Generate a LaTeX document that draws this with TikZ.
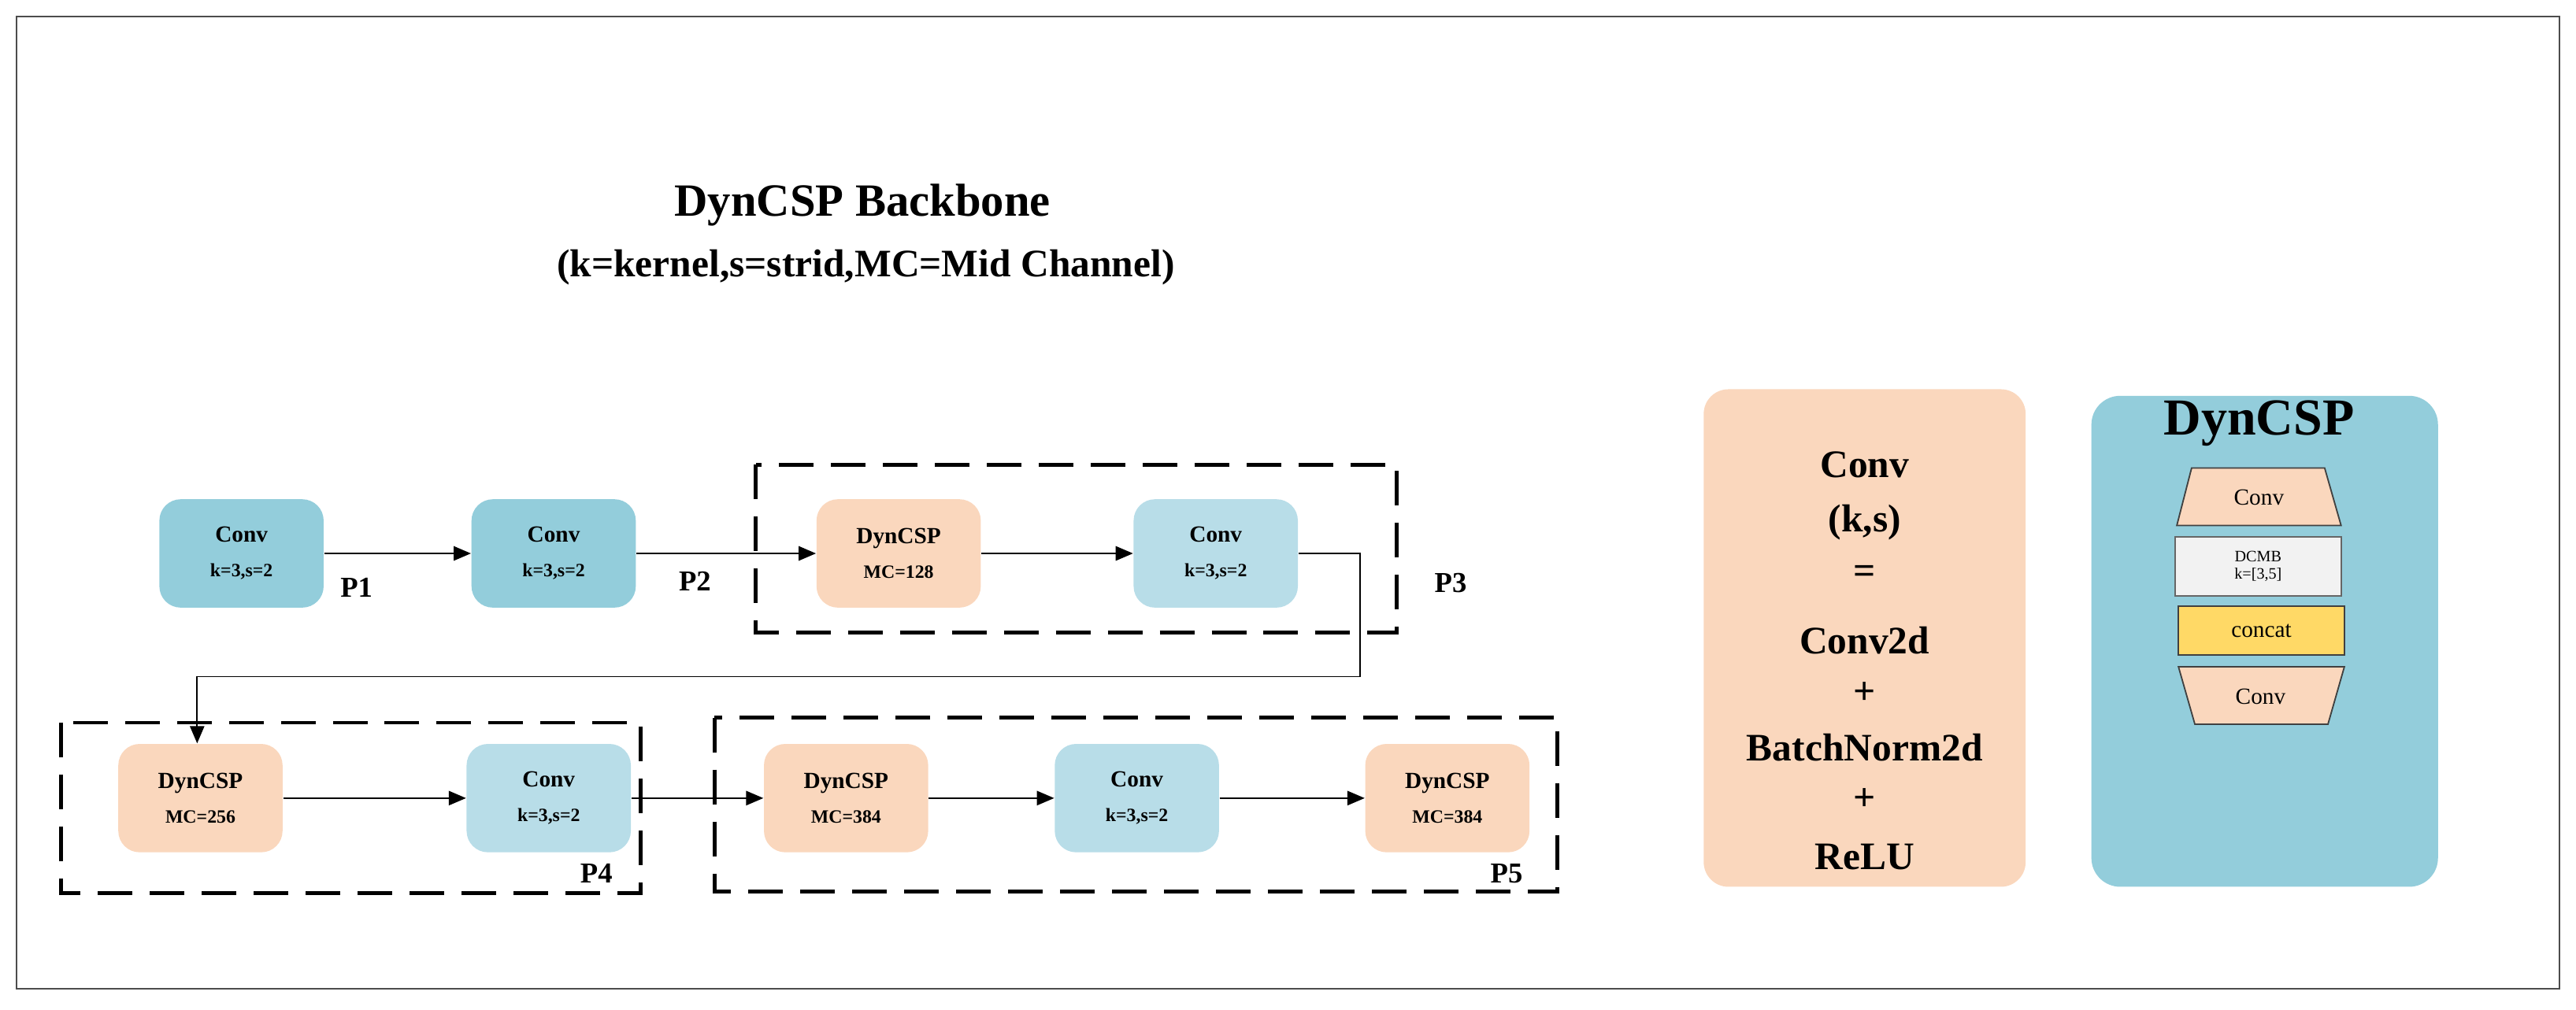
\documentclass[tikz,border=0pt]{standalone}
\usepackage{fontspec}
\setmainfont{Liberation Serif}
\usetikzlibrary{arrows.meta}
\definecolor{teal}{HTML}{93CDDB}
\definecolor{lblue}{HTML}{B8DDE8}
\definecolor{peach}{HTML}{FAD7BD}
\definecolor{lgray}{HTML}{F2F2F2}
\definecolor{gold}{HTML}{FFD966}
\begin{document}
\begin{tikzpicture}[x=0.02cm,y=-0.02cm,
  blk/.style={rounded corners=0.26cm,minimum width=2cm,minimum height=1.32cm,align=center,font=\fontsize{8}{11}\selectfont\bfseries,inner sep=0pt},
  cA/.style={blk,fill=teal},
  cB/.style={blk,fill=lblue},
  dP/.style={blk,fill=peach},
  arr/.style={-{Triangle[length=6pt,width=5pt]},line width=0.5pt},
  dbox/.style={dash pattern=on 12pt off 6pt,line width=1.3pt},
  plab/.style={font=\fontsize{10}{12}\selectfont\bfseries,inner sep=0pt},
  sml/.style={font=\fontsize{6}{6}\selectfont}]
\useasboundingbox (0,0) rectangle (1568,615);
\draw[line width=0.6pt,black!70] (10,10) rectangle (1558,602);
\node[font=\fontsize{16}{18}\selectfont\bfseries] (t1) at (525,125) {DynCSP Backbone};
\node[font=\fontsize{13.5}{16}\selectfont\bfseries] (t2) at (527,163) {(k=kernel,s=strid,MC=Mid Channel)};
% dashed boxes
\draw[dbox] (460,283) rectangle (850,385);
\draw[dbox] (37,440) rectangle (390,544);
\draw[dbox] (435,437) rectangle (948,543);
% row 1
\node[cA] (a1) at (147,337) {Conv\\[1pt]{\fontsize{6.5}{8}\selectfont k=3,s=2}};
\node[cA] (a2) at (337,337) {Conv\\[1pt]{\fontsize{6.5}{8}\selectfont k=3,s=2}};
\node[dP] (a3) at (547,337) {DynCSP\\[1pt]{\fontsize{6.5}{8}\selectfont MC=128}};
\node[cB] (a4) at (740,337) {Conv\\[1pt]{\fontsize{6.5}{8}\selectfont k=3,s=2}};
% row 2
\node[dP] (b1) at (122,486) {DynCSP\\[1pt]{\fontsize{6.5}{8}\selectfont MC=256}};
\node[cB] (b2) at (334,486) {Conv\\[1pt]{\fontsize{6.5}{8}\selectfont k=3,s=2}};
\node[dP] (b3) at (515,486) {DynCSP\\[1pt]{\fontsize{6.5}{8}\selectfont MC=384}};
\node[cB] (b4) at (692,486) {Conv\\[1pt]{\fontsize{6.5}{8}\selectfont k=3,s=2}};
\node[dP] (b5) at (881,486) {DynCSP\\[1pt]{\fontsize{6.5}{8}\selectfont MC=384}};
\node[plab] (p1) at (217,358) {P1};
\node[plab] (p2) at (423,354) {P2};
\node[plab] (p3) at (883,355) {P3};
\node[plab] (p4) at (363,532) {P4};
\node[plab] (p5) at (917,532) {P5};
\draw[arr] (a1) -- (a2);
\draw[arr] (a2) -- (a3);
\draw[arr] (a3) -- (a4);
\coordinate (c1) at (828,337);
\coordinate (c2) at (828,412);
\coordinate (c3) at (120,412);
\draw[arr] (a4.east) -- (c1) -- (c2) -- (c3) -- (b1.north -| c3);
\draw[arr] (b1) -- (b2);
\draw[arr] (b2) -- (b3);
\draw[arr] (b3) -- (b4);
\draw[arr] (b4) -- (b5);
% legend conv
\node[fill=peach,rounded corners=0.3cm,minimum width=3.92cm,minimum height=6.06cm] (lc) at (1135,388.5) {};
\foreach \t/\yy [count=\i] in {Conv/283,{(k,s)}/318,=/350,Conv2d/390,+/422,BatchNorm2d/455,+/487,ReLU/522}
  \node[font=\fontsize{13.5}{16}\selectfont\bfseries] (lt\i) at (1135,\yy) {\t};
% legend dyncsp
\node[fill=teal,rounded corners=0.35cm,minimum width=4.22cm,minimum height=5.98cm] (ld) at (1378.5,390.5) {};
\node[font=\fontsize{18}{20}\selectfont\bfseries] (ldt) at (1375,258) {DynCSP};
\draw[fill=peach,draw=black!75,line width=0.5pt] (1334,285) -- (1415,285) -- (1425,320) -- (1325,320) -- cycle;
\node[font=\fontsize{8}{9}\selectfont] (tc1) at (1375,303) {Conv};
\node[draw=black!60,fill=lgray,line width=0.5pt,minimum width=2.02cm,minimum height=0.72cm,inner sep=0pt,align=center,font=\fontsize{5.5}{6}\selectfont] (dc) at (1374.5,345) {DCMB\\k=[3,5]};
\node[draw=black!75,fill=gold,line width=0.5pt,minimum width=2.02cm,minimum height=0.6cm,inner sep=0pt,font=\fontsize{8}{9}\selectfont] (cc) at (1376.5,384) {concat};
\draw[fill=peach,draw=black!75,line width=0.5pt] (1326,406) -- (1427,406) -- (1417,441) -- (1336,441) -- cycle;
\node[font=\fontsize{8}{9}\selectfont] (tc2) at (1376,424) {Conv};
\end{tikzpicture}
\end{document}
